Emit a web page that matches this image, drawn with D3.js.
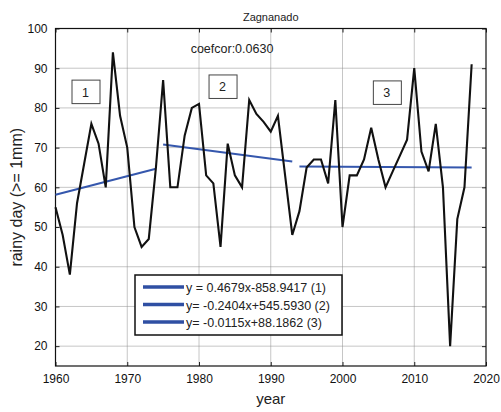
<!DOCTYPE html>
<html>
<head>
<meta charset="utf-8">
<script src="https://cdn.jsdelivr.net/npm/d3@7"></script>
<style>
  body { margin: 0; background: #fff; }
  svg { display: block; font-family: "Liberation Sans", Arial, sans-serif; }
</style>
</head>
<body>
<script>
//data
var years = [1960,1961,1962,1963,1964,1965,1966,1967,1968,1969,
             1970,1971,1972,1973,1974,1975,1976,1977,1978,1979,
             1980,1981,1982,1983,1984,1985,1986,1987,1988,1989,
             1990,1991,1992,1993,1994,1995,1996,1997,1998,1999,
             2000,2001,2002,2003,2004,2005,2006,2007,2008,2009,
             2010,2011,2012,2013,2014,2015,2016,2017,2018];
var rainyDays = [55,48,38,56,66,76,71,60,94,78,
                 70,50,45,47,65,87,60,60,73,80,
                 81,63,61,45,71,63,60,82,78.5,76.5,
                 74,78,63,48,54,65,67,67,61,82,
                 50,63,63,67,75,67,60,64,68,72,
                 90,69,64,76,60,20,52,60,91];
//trend segments: start / end year and value at each end
var trendStart = [1960, 1975, 1994];
var trendEnd = [1974, 1993, 2018];
var trendStartVal = [58.14, 70.81, 65.25];
var trendEndVal = [64.69, 66.48, 64.98];
var trendLabels = ["y = 0.4679x-858.9417 (1)", "y= -0.2404x+545.5930 (2)", "y= -0.0115x+88.1862 (3)"];
//period boxes (top-left corner in data units)
var boxLabels = ["1", "2", "3"];
var boxYears = [1962.3, 1981.4, 2004.3];
var boxValues = [87.0, 88.3, 86.8];
var xTicks = [1960,1970,1980,1990,2000,2010,2020];
var yTicks = [20,30,40,50,60,70,80,90,100];

(function draw(){
  var width = 501, height = 412;
  var pLeft = 55.5, pRight = 486, pTop = 28.5, pBottom = 366;

  var svg = d3.select("body").append("svg")
    .attr("width", width)
    .attr("height", height);

  var x = d3.scaleLinear().domain([1960, 2020]).range([pLeft, pRight]);
  var y = d3.scaleLinear().domain([15, 100]).range([pBottom, pTop]);

  //grid
  var grid = svg.append("g").attr("class", "grid");
  grid.selectAll(".gx")
    .data(xTicks.slice(1, -1))
    .enter().append("line")
    .attr("x1", function(d){ return x(d); })
    .attr("x2", function(d){ return x(d); })
    .attr("y1", pTop).attr("y2", pBottom)
    .attr("stroke", "#8c8c8c").attr("stroke-dasharray", "1,1");
  grid.selectAll(".gy")
    .data(yTicks.slice(0, -1))
    .enter().append("line")
    .attr("x1", pLeft).attr("x2", pRight)
    .attr("y1", function(d){ return y(d); })
    .attr("y2", function(d){ return y(d); })
    .attr("stroke", "#8c8c8c").attr("stroke-dasharray", "1,1");

  //axes with inward ticks
  svg.append("g")
    .attr("transform", "translate(0," + pBottom + ")")
    .call(d3.axisBottom(x).tickValues(xTicks).tickFormat(d3.format("d")).tickSizeInner(-4).tickSizeOuter(0).tickPadding(8));
  svg.append("g")
    .attr("transform", "translate(0," + pTop + ")")
    .call(d3.axisTop(x).tickValues(xTicks).tickFormat("").tickSizeInner(-4).tickSizeOuter(0));
  svg.append("g")
    .attr("transform", "translate(" + pLeft + ",0)")
    .call(d3.axisLeft(y).tickValues(yTicks).tickSizeInner(-4).tickSizeOuter(0).tickPadding(8));
  svg.append("g")
    .attr("transform", "translate(" + pRight + ",0)")
    .call(d3.axisRight(y).tickValues(yTicks).tickFormat("").tickSizeInner(-4).tickSizeOuter(0));
  svg.selectAll(".domain").remove();
  svg.selectAll(".tick line").attr("stroke", "#222");
  svg.selectAll(".tick text")
    .attr("font-size", "12px")
    .attr("fill", "#111");

  //plot frame
  svg.append("rect")
    .attr("x", pLeft).attr("y", pTop)
    .attr("width", pRight - pLeft).attr("height", pBottom - pTop)
    .attr("fill", "none").attr("stroke", "#111").attr("stroke-width", 1.2);

  //trend lines
  svg.selectAll(".trend")
    .data(trendStart)
    .enter().append("line")
    .attr("class", "trend")
    .attr("x1", function(d){ return x(d); })
    .attr("x2", function(d, i){ return x(trendEnd[i]); })
    .attr("y1", function(d, i){ return y(trendStartVal[i]); })
    .attr("y2", function(d, i){ return y(trendEndVal[i]); })
    .attr("stroke", "#3557ad").attr("stroke-width", 2);

  //rainy day series
  var line = d3.line()
    .x(function(d, i){ return x(years[i]); })
    .y(function(d){ return y(d); });
  svg.append("path")
    .datum(rainyDays)
    .attr("d", line)
    .attr("fill", "none")
    .attr("stroke", "#111")
    .attr("stroke-width", 2.1)
    .attr("stroke-linejoin", "miter");

  //period boxes
  var boxes = svg.selectAll(".pbox")
    .data(boxLabels)
    .enter().append("g")
    .attr("class", "pbox")
    .attr("transform", function(d, i){ return "translate(" + x(boxYears[i]) + "," + y(boxValues[i]) + ")"; });
  boxes.append("rect")
    .attr("x", 0).attr("y", 0)
    .attr("width", 28).attr("height", 23.5)
    .attr("fill", "#fff").attr("stroke", "#444").attr("stroke-width", 1);
  boxes.append("text")
    .attr("x", 10).attr("y", 16.5)
    .attr("font-size", "12.5px")
    .attr("fill", "#222")
    .text(function(d){ return d; });

  //coefficient
  svg.append("text")
    .attr("x", 232).attr("y", 53)
    .attr("text-anchor", "middle")
    .attr("font-size", "12.5px")
    .attr("fill", "#222")
    .text("coefcor:0.0630");

  //legend
  var legend = svg.append("g").attr("transform", "translate(135,275)");
  legend.append("rect")
    .attr("width", 207).attr("height", 60)
    .attr("fill", "#fff").attr("stroke", "#111").attr("stroke-width", 1.5);
  var items = legend.selectAll(".item")
    .data(trendLabels)
    .enter().append("g")
    .attr("class", "item")
    .attr("transform", function(d, i){ return "translate(0," + (12 + i * 17.5) + ")"; });
  items.append("line")
    .attr("x1", 8).attr("x2", 49)
    .attr("y1", 0).attr("y2", 0)
    .attr("stroke", "#2f4fa3").attr("stroke-width", 3.5);
  items.append("text")
    .attr("x", 51).attr("y", 5)
    .attr("font-size", "12.5px")
    .attr("fill", "#222")
    .text(function(d){ return d; });

  //titles
  svg.append("text")
    .attr("x", (pLeft + pRight) / 2).attr("y", 21)
    .attr("text-anchor", "middle")
    .attr("font-size", "11px")
    .attr("fill", "#222")
    .text("Zagnanado");
  svg.append("text")
    .attr("x", (pLeft + pRight) / 2).attr("y", 404)
    .attr("text-anchor", "middle")
    .attr("font-size", "15px")
    .attr("fill", "#222")
    .text("year");
  svg.append("text")
    .attr("transform", "translate(22," + ((pTop + pBottom) / 2) + ") rotate(-90)")
    .attr("text-anchor", "middle")
    .attr("font-size", "16px")
    .attr("fill", "#222")
    .text("rainy day (>= 1mm)");
})();
</script>
</body>
</html>
